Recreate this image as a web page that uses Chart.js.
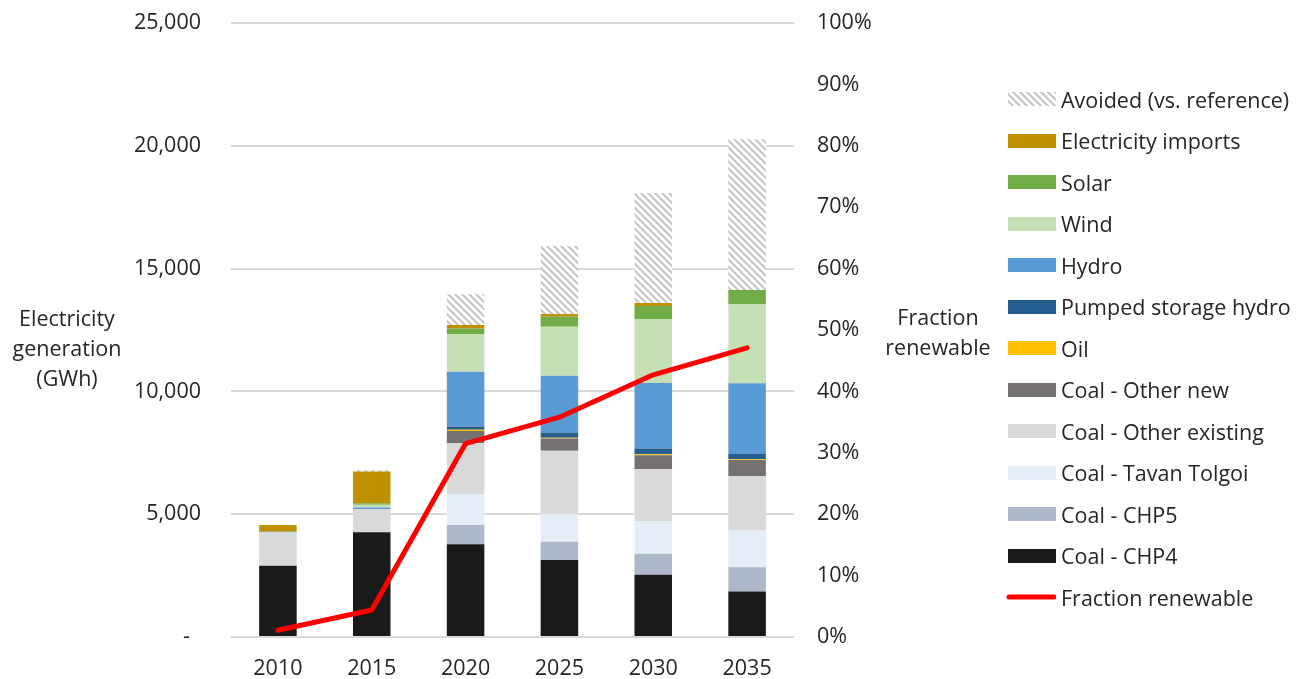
<!DOCTYPE html>
<html><head><meta charset="utf-8">
<script src="https://cdn.jsdelivr.net/npm/chart.js@4.4.0/dist/chart.umd.min.js"></script>
<style>
html,body{margin:0;padding:0;background:#fff;}
#wrap{position:relative;width:1306px;height:679px;font-family:"Open Sans",sans-serif;color:#262626;overflow:hidden;}
#c{position:absolute;left:0;top:0;}
.ttl{position:absolute;text-align:center;font-size:21.5px;line-height:30px;white-space:nowrap;}
.li{position:absolute;left:1006px;height:30px;display:flex;align-items:center;white-space:nowrap;font-size:21.5px;}
.li canvas{margin-right:5px;}
</style></head>
<body>
<div id="wrap">
<canvas id="c" width="1306" height="679"></canvas>
<div class="ttl" style="left:-33px;width:200px;top:303px;">Electricity<br>generation<br>(GWh)</div>
<div class="ttl" style="left:838px;width:200px;top:302px;">Fraction<br>renewable</div>
<div id="legend"></div>
</div>
<script>
const years = ['2010','2015','2020','2025','2030','2035'];
const coalCHP4        = [2900, 4260, 3780, 3140, 2530, 1850];
const coalCHP5        = [0, 0, 785, 735, 855, 990];
const coalTavanTolgoi = [0, 0, 1260, 1140, 1315, 1505];
const coalOtherExist  = [1360, 950, 2065, 2565, 2145, 2200];
const coalOtherNew    = [0, 0, 500, 500, 555, 665];
const oil             = [0, 0, 50, 30, 40, 30];
const pumpedStorage   = [0, 0, 130, 215, 230, 230];
const hydro           = [30, 60, 2230, 2310, 2675, 2865];
const wind            = [0, 110, 1535, 1995, 2605, 3215];
const solar           = [0, 70, 230, 405, 530, 580];
const imports         = [270, 1290, 135, 120, 120, 0];
const avoided         = [0, 60, 1260, 2770, 4480, 6135];
const fractionRenewable = [1.1, 4.4, 31.5, 35.8, 42.7, 47.1];
const leftTicks = [0, 5000, 10000, 15000, 20000, 25000];
const rightTicks = [0,10,20,30,40,50,60,70,80,90,100];

const FONT = {family:'"Open Sans", sans-serif', size:21.5};
const TXT = '#262626';

function makeHatch(ctx){
  const t=document.createElement('canvas'); t.width=t.height=7;
  const x=t.getContext('2d');
  x.fillStyle='#fff'; x.fillRect(0,0,7,7);
  x.strokeStyle='#c4c4c4'; x.lineWidth=2;
  x.beginPath();
  x.moveTo(0,0); x.lineTo(7,7);
  x.moveTo(-7,0); x.lineTo(7,14);
  x.moveTo(0,-7); x.lineTo(14,7);
  x.stroke();
  return ctx.createPattern(t,'repeat');
}
const mainCtx = document.getElementById('c').getContext('2d');
const hatch = makeHatch(mainCtx);

const barDefs = [
  ['Coal - CHP4', coalCHP4, '#1a1a1a'],
  ['Coal - CHP5', coalCHP5, '#adb9ca'],
  ['Coal - Tavan Tolgoi', coalTavanTolgoi, '#e4edf8'],
  ['Coal - Other existing', coalOtherExist, '#d9d9d9'],
  ['Coal - Other new', coalOtherNew, '#767171'],
  ['Oil', oil, '#ffc000'],
  ['Pumped storage hydro', pumpedStorage, '#255e91'],
  ['Hydro', hydro, '#5b9bd5'],
  ['Wind', wind, '#c5e0b4'],
  ['Solar', solar, '#70ad47'],
  ['Electricity imports', imports, '#bf9000'],
  ['Avoided (vs. reference)', avoided, hatch]
];

const datasets = barDefs.map(d=>({
  type:'bar', label:d[0], data:d[1], backgroundColor:d[2], borderWidth:0,
  stack:'gen', yAxisID:'y', order:2, barPercentage:0.4, categoryPercentage:1.0
}));
datasets.push({
  type:'line', label:'Fraction renewable', data:fractionRenewable, yAxisID:'y1',
  borderColor:'#ff0000', backgroundColor:'#ff0000', borderWidth:5, pointRadius:0,
  tension:0, borderCapStyle:'round', borderJoinStyle:'round', order:0, stack:'line'
});

function noPad(s){ s.paddingTop=0; s.paddingBottom=0; s.paddingLeft=0; s.paddingRight=0; }

new Chart(mainCtx, {
  data:{labels:years, datasets},
  options:{
    responsive:false, animation:false,
    layout:{padding:{left:0,right:300,top:23,bottom:0}},
    plugins:{legend:{display:false}, tooltip:{enabled:false}},
    scales:{
      x:{stacked:true, grid:{display:false}, border:{display:false},
         ticks:{font:FONT, color:TXT, padding:11},
         afterFit:s=>{s.height=42; noPad(s);}},
      y:{stacked:true, min:0, max:25000,
         afterBuildTicks:s=>{s.ticks=leftTicks.map(v=>({value:v}));},
         ticks:{font:FONT, color:TXT, padding:30,
           callback:v=> v===0 ? '-  ' : v.toLocaleString('en-US')},
         grid:{color:'#d9d9d9', lineWidth:2, drawTicks:false},
         border:{display:false},
         afterFit:s=>{s.width=231; noPad(s);}},
      y1:{position:'right', min:0, max:100,
         afterBuildTicks:s=>{s.ticks=rightTicks.map(v=>({value:v}));},
         ticks:{font:FONT, color:TXT, padding:23, callback:v=>v+'%'},
         grid:{display:false, drawTicks:false}, border:{display:false},
         afterFit:s=>{s.width=212; noPad(s);}}
    }
  }
});

// HTML legend built from dataset definitions
const legend = document.getElementById('legend');
const legendOrder = [...barDefs].reverse();
const startY = 99, stepY = 41.5;
legendOrder.forEach((d,i)=>{
  const div=document.createElement('div'); div.className='li';
  div.style.top=(startY+i*stepY-15)+'px';
  const sw=document.createElement('canvas'); sw.width=50; sw.height=14;
  const sx=sw.getContext('2d');
  sx.fillStyle = d[2]===hatch ? makeHatch(sx) : d[2];
  sx.fillRect(2,0,48,14);
  div.appendChild(sw);
  div.appendChild(document.createTextNode(d[0]));
  legend.appendChild(div);
});
{
  const i=legendOrder.length;
  const div=document.createElement('div'); div.className='li';
  div.style.top=(startY+i*stepY-15)+'px';
  const sw=document.createElement('canvas'); sw.width=50; sw.height=14;
  const sx=sw.getContext('2d');
  sx.strokeStyle='#ff0000'; sx.lineWidth=5; sx.lineCap='round';
  sx.beginPath(); sx.moveTo(3,7); sx.lineTo(48,7); sx.stroke();
  div.appendChild(sw);
  div.appendChild(document.createTextNode('Fraction renewable'));
  legend.appendChild(div);
}
</script>
</body></html>
